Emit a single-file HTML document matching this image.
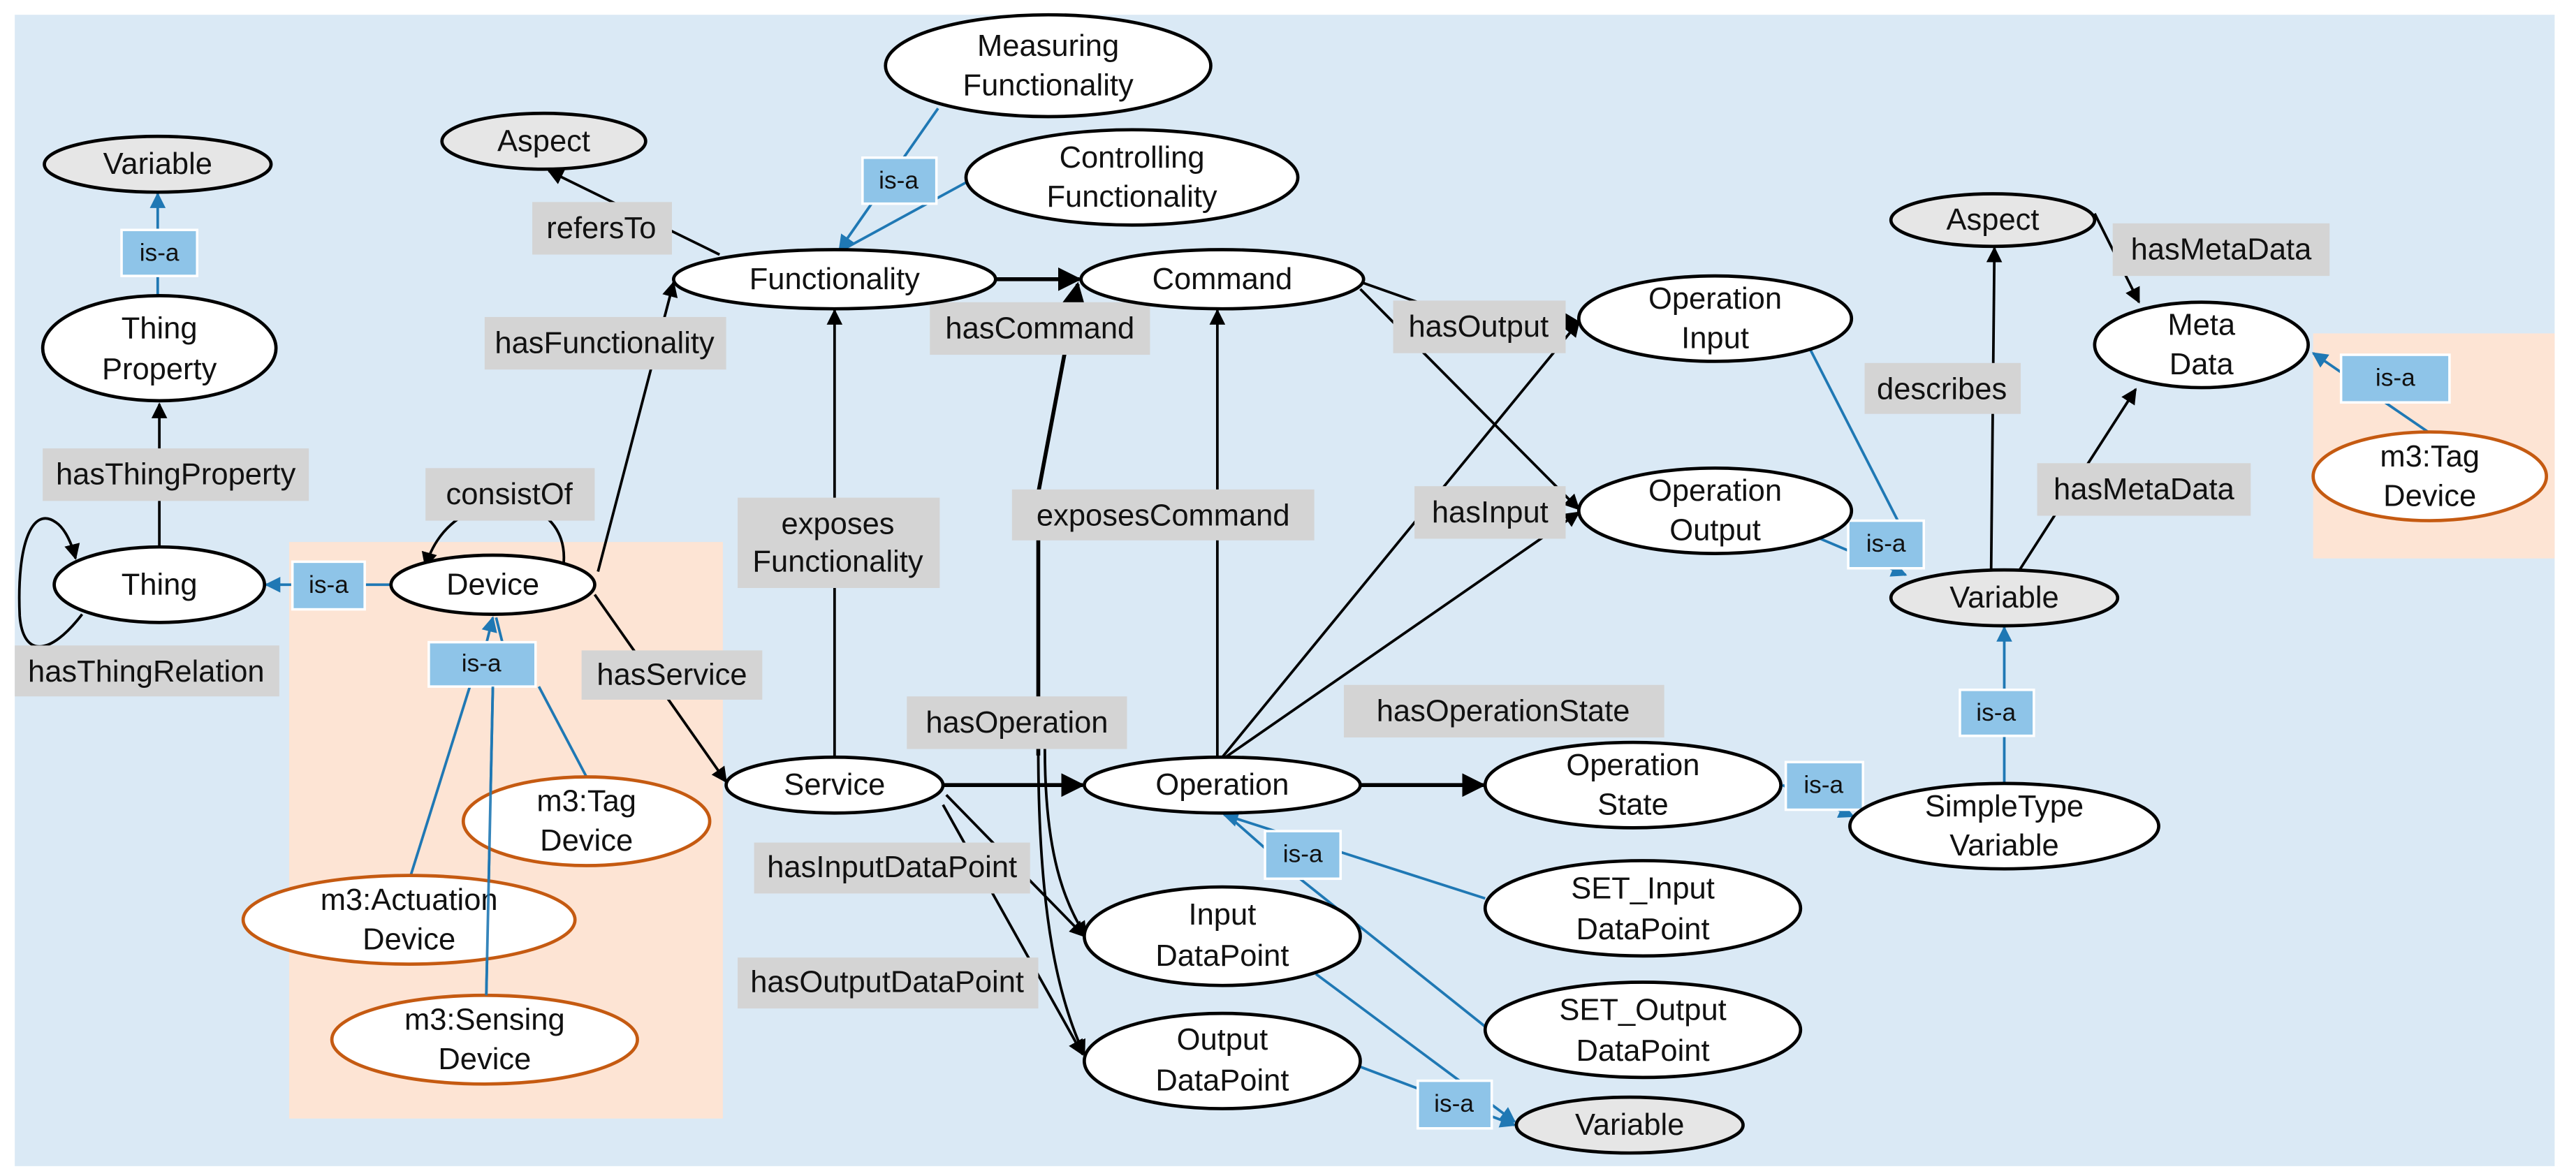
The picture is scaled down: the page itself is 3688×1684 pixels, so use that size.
<!DOCTYPE html>
<html><head><meta charset="utf-8"><style>
html,body{margin:0;padding:0;background:#fff;}
svg{display:block;}
text{font-family:"Liberation Sans",Arial,sans-serif;font-size:18.5px;fill:#111;text-anchor:middle;dominant-baseline:central;}
.lb{fill:#d4d4d4;}
.isa{fill:#8ec4e8;stroke:#fff;stroke-width:1.5;}
.n{fill:#fff;stroke:#000;stroke-width:2;}
.g{fill:#e6e6e6;stroke:#000;stroke-width:2;}
.o{fill:#fff;stroke:#c55a11;stroke-width:2;}
.k{stroke:#000;stroke-width:1.6;fill:none;}
.kb{stroke:#000;stroke-width:2.4;fill:none;}
.b{stroke:#1f78b4;stroke-width:1.6;fill:none;}
.s{font-size:15px;}
</style></head><body>
<svg width="3688" height="1684" viewBox="0 0 1568 716" preserveAspectRatio="none" xmlns="http://www.w3.org/2000/svg">
<defs>
<marker id="ak" viewBox="0 0 10 10" refX="9" refY="5" markerWidth="6" markerHeight="6" orient="auto"><path d="M0,0L10,5L0,10z" fill="#000"/></marker>
<marker id="ab" viewBox="0 0 10 10" refX="9" refY="5" markerWidth="6" markerHeight="6" orient="auto"><path d="M0,0L10,5L0,10z" fill="#1f78b4"/></marker>
</defs>
<rect x="9" y="9" width="1546" height="701" fill="#dae9f5"/>
<rect x="176" y="330" width="264" height="351" fill="#fde4d4"/>
<rect x="1408" y="203" width="147" height="137" fill="#fde4d4"/>

<!-- black edges -->
<line class="k" x1="97" y1="333" x2="97" y2="246" marker-end="url(#ak)"/>
<path class="k" d="M50,374 C30,400 14,400 12,375 C10,330 20,308 34,318 C40,322 44,332 46,340" marker-end="url(#ak)"/>
<path class="k" d="M343,344 C348,296 274,292 259,345" marker-end="url(#ak)"/>
<line class="k" x1="364" y1="348" x2="410" y2="172" marker-end="url(#ak)"/>
<line class="k" x1="438" y1="155" x2="334" y2="104" marker-end="url(#ak)"/>
<line class="k" x1="362" y1="362" x2="442" y2="476" marker-end="url(#ak)"/>
<line class="k" x1="508" y1="461" x2="508" y2="189" marker-end="url(#ak)"/>
<line class="kb" x1="606" y1="170" x2="657" y2="170" marker-end="url(#ak)"/>
<line class="kb" x1="574" y1="478" x2="659" y2="478" marker-end="url(#ak)"/>
<line class="k" x1="741" y1="461" x2="741" y2="189" marker-end="url(#ak)"/>
<path class="kb" d="M632,460 L632,300 L656,173" marker-end="url(#ak)"/>
<path class="k" d="M632,456 C632,560 645,610 660,642" marker-end="url(#ak)"/>
<path class="k" d="M636,456 C636,520 648,550 661,570" marker-end="url(#ak)"/>
<line class="k" x1="576" y1="484" x2="660" y2="570" marker-end="url(#ak)"/>
<line class="k" x1="574" y1="490" x2="659" y2="642" marker-end="url(#ak)"/>
<path class="k" d="M829,172 L880,190 L961,196" marker-end="url(#ak)"/>
<line class="k" x1="828" y1="176" x2="961" y2="310" marker-end="url(#ak)"/>
<line class="k" x1="744" y1="461" x2="961" y2="196" marker-end="url(#ak)"/>
<line class="k" x1="746" y1="461" x2="961" y2="312" marker-end="url(#ak)"/>
<line class="kb" x1="828" y1="478" x2="903" y2="478" marker-end="url(#ak)"/>
<line class="k" x1="1212" y1="347" x2="1214" y2="151" marker-end="url(#ak)"/>
<line class="k" x1="1228" y1="349" x2="1300" y2="237" marker-end="url(#ak)"/>
<line class="k" x1="1275" y1="130" x2="1302" y2="184" marker-end="url(#ak)"/>

<!-- blue edges -->
<line class="b" x1="96" y1="180" x2="96" y2="118" marker-end="url(#ab)"/>
<line class="b" x1="571" y1="66" x2="511" y2="152" marker-end="url(#ab)"/>
<line class="b" x1="590" y1="110" x2="513" y2="152"/>
<line class="b" x1="238" y1="356" x2="162" y2="356" marker-end="url(#ab)"/>
<line class="b" x1="286" y1="418" x2="250" y2="533"/>
<line class="b" x1="300" y1="418" x2="296" y2="606"/>
<line class="b" x1="328" y1="418" x2="357" y2="473"/>
<line class="b" x1="296" y1="392" x2="300" y2="376" marker-end="url(#ab)"/>
<line class="b" x1="306" y1="392" x2="302" y2="376"/>
<line class="b" x1="1102" y1="213" x2="1170" y2="346" marker-end="url(#ab)"/>
<line class="b" x1="1108" y1="328" x2="1160" y2="350" marker-end="url(#ab)"/>
<line class="b" x1="1478" y1="263" x2="1408" y2="215" marker-end="url(#ab)"/>
<line class="b" x1="1220" y1="477" x2="1220" y2="382" marker-end="url(#ab)"/>
<line class="b" x1="1085" y1="478" x2="1128" y2="497" marker-end="url(#ab)"/>
<line class="b" x1="904" y1="547" x2="745" y2="496" marker-end="url(#ab)"/>
<line class="b" x1="904" y1="625" x2="790" y2="534"/>
<line class="b" x1="790" y1="534" x2="748" y2="497"/>
<line class="b" x1="801" y1="593" x2="922" y2="683" marker-end="url(#ab)"/>
<line class="b" x1="824" y1="648" x2="922" y2="685" marker-end="url(#ab)"/>

<!-- labels -->
<rect class="lb" x="26" y="273" width="162" height="32"/><text x="107" y="289">hasThingProperty</text>
<rect class="lb" x="9" y="393" width="161" height="31"/><text x="89" y="409">hasThingRelation</text>
<rect class="lb" x="324" y="123" width="85" height="32"/><text x="366" y="139">refersTo</text>
<rect class="lb" x="295" y="193" width="147" height="32"/><text x="368" y="209">hasFunctionality</text>
<rect class="lb" x="566" y="184" width="134" height="32"/><text x="633" y="200">hasCommand</text>
<rect class="lb" x="259" y="285" width="103" height="32"/><text x="310" y="301">consistOf</text>
<rect class="lb" x="449" y="303" width="123" height="55"/><text x="510" y="319">exposes</text><text x="510" y="342">Functionality</text>
<rect class="lb" x="616" y="298" width="184" height="31"/><text x="708" y="314">exposesCommand</text>
<rect class="lb" x="354" y="396" width="110" height="30"/><text x="409" y="411">hasService</text>
<rect class="lb" x="552" y="424" width="134" height="32"/><text x="619" y="440">hasOperation</text>
<rect class="lb" x="459" y="513" width="168" height="31"/><text x="543" y="528">hasInputDataPoint</text>
<rect class="lb" x="449" y="583" width="183" height="31"/><text x="540" y="598">hasOutputDataPoint</text>
<rect class="lb" x="848" y="183" width="105" height="32"/><text x="900" y="199">hasOutput</text>
<rect class="lb" x="861" y="296" width="92" height="32"/><text x="907" y="312">hasInput</text>
<rect class="lb" x="818" y="417" width="195" height="32"/><text x="915" y="433">hasOperationState</text>
<rect class="lb" x="1135" y="221" width="95" height="31"/><text x="1182" y="237">describes</text>
<rect class="lb" x="1286" y="136" width="132" height="32"/><text x="1352" y="152">hasMetaData</text>
<rect class="lb" x="1240" y="282" width="130" height="32"/><text x="1305" y="298">hasMetaData</text>

<rect class="isa" x="74" y="140" width="46" height="28"/><text class="s" x="97" y="154">is-a</text>
<rect class="isa" x="525" y="96" width="45" height="28"/><text class="s" x="547" y="110">is-a</text>
<rect class="isa" x="178" y="342" width="44" height="29"/><text class="s" x="200" y="356">is-a</text>
<rect class="isa" x="261" y="391" width="65" height="27"/><text class="s" x="293" y="404">is-a</text>
<rect class="isa" x="1425" y="216" width="66" height="29"/><text class="s" x="1458" y="230">is-a</text>
<rect class="isa" x="1125" y="317" width="46" height="29"/><text class="s" x="1148" y="331">is-a</text>
<rect class="isa" x="1193" y="420" width="45" height="28"/><text class="s" x="1215" y="434">is-a</text>
<rect class="isa" x="1087" y="464" width="47" height="29"/><text class="s" x="1110" y="478">is-a</text>
<rect class="isa" x="770" y="506" width="46" height="29"/><text class="s" x="793" y="520">is-a</text>
<rect class="isa" x="863" y="658" width="45" height="29"/><text class="s" x="885" y="672">is-a</text>

<!-- nodes -->
<ellipse class="g" cx="96" cy="100" rx="69" ry="17"/><text x="96" y="100">Variable</text>
<ellipse class="n" cx="97" cy="212" rx="71" ry="32"/><text x="97" y="200">Thing</text><text x="97" y="225">Property</text>
<ellipse class="g" cx="331" cy="86" rx="62" ry="17"/><text x="331" y="86">Aspect</text>
<ellipse class="n" cx="638" cy="40" rx="99" ry="31"/><text x="638" y="28">Measuring</text><text x="638" y="52">Functionality</text>
<ellipse class="n" cx="689" cy="108" rx="101" ry="29"/><text x="689" y="96">Controlling</text><text x="689" y="120">Functionality</text>
<ellipse class="n" cx="508" cy="170" rx="98" ry="18"/><text x="508" y="170">Functionality</text>
<ellipse class="n" cx="744" cy="170" rx="86" ry="18"/><text x="744" y="170">Command</text>
<ellipse class="n" cx="97" cy="356" rx="64" ry="23"/><text x="97" y="356">Thing</text>
<ellipse class="n" cx="300" cy="356" rx="62" ry="18"/><text x="300" y="356">Device</text>
<ellipse class="o" cx="357" cy="500" rx="75" ry="27"/><text x="357" y="488">m3:Tag</text><text x="357" y="512">Device</text>
<ellipse class="o" cx="249" cy="560" rx="101" ry="27"/><text x="249" y="548">m3:Actuation</text><text x="249" y="572">Device</text>
<ellipse class="o" cx="295" cy="633" rx="93" ry="27"/><text x="295" y="621">m3:Sensing</text><text x="295" y="645">Device</text>
<line class="b" x1="300" y1="418" x2="296" y2="606" style="opacity:.9"/>
<ellipse class="n" cx="508" cy="478" rx="66" ry="17"/><text x="508" y="478">Service</text>
<ellipse class="n" cx="744" cy="478" rx="84" ry="17"/><text x="744" y="478">Operation</text>
<ellipse class="n" cx="744" cy="570" rx="84" ry="30"/><text x="744" y="557">Input</text><text x="744" y="582">DataPoint</text>
<ellipse class="n" cx="744" cy="646" rx="84" ry="29"/><text x="744" y="633">Output</text><text x="744" y="658">DataPoint</text>
<ellipse class="n" cx="1044" cy="194" rx="83" ry="26"/><text x="1044" y="182">Operation</text><text x="1044" y="206">Input</text>
<ellipse class="n" cx="1044" cy="311" rx="83" ry="26"/><text x="1044" y="299">Operation</text><text x="1044" y="323">Output</text>
<ellipse class="g" cx="1213" cy="134" rx="62" ry="16"/><text x="1213" y="134">Aspect</text>
<ellipse class="n" cx="1340" cy="210" rx="65" ry="26"/><text x="1340" y="198">Meta</text><text x="1340" y="222">Data</text>
<ellipse class="o" cx="1479" cy="290" rx="71" ry="27"/><text x="1479" y="278">m3:Tag</text><text x="1479" y="302">Device</text>
<ellipse class="g" cx="1220" cy="364" rx="69" ry="17"/><text x="1220" y="364">Variable</text>
<ellipse class="n" cx="994" cy="478" rx="90" ry="26"/><text x="994" y="466">Operation</text><text x="994" y="490">State</text>
<ellipse class="n" cx="1220" cy="503" rx="94" ry="26"/><text x="1220" y="491">SimpleType</text><text x="1220" y="515">Variable</text>
<ellipse class="n" cx="1000" cy="553" rx="96" ry="29"/><text x="1000" y="541">SET_Input</text><text x="1000" y="566">DataPoint</text>
<ellipse class="n" cx="1000" cy="627" rx="96" ry="29"/><text x="1000" y="615">SET_Output</text><text x="1000" y="640">DataPoint</text>
<ellipse class="g" cx="992" cy="685" rx="69" ry="17"/><text x="992" y="685">Variable</text>
</svg>
</body></html>
